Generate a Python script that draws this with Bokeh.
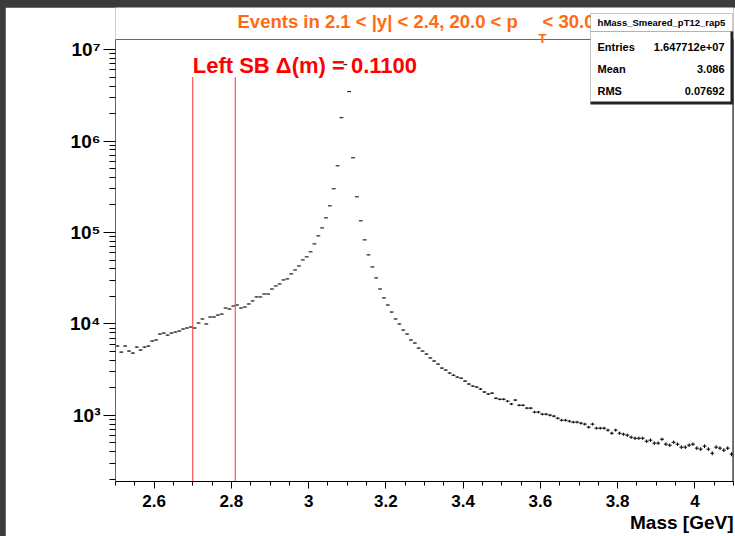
import numpy as np
from bokeh.plotting import figure
from bokeh.models import Range1d, FixedTicker, Label, BoxAnnotation, Title
from bokeh.layouts import column
from bokeh.embed import file_html
from bokeh.resources import INLINE

# ---------------- data ----------------
BIN_LOW = 2.5
BIN_WIDTH = 0.01
counts = [
    5730, 4920, 5730, 5050, 4800, 5580, 5180, 5580, 5730, 6500,
    6670, 7750, 7940, 7550, 7940, 8150, 8360, 8790, 9020, 9250,
    9020, 10230, 11320, 9980, 11900, 11900, 12500, 12820, 14930, 14560,
    15700, 16100, 14930, 15310, 16520, 17820, 19720, 19720, 21240, 21240,
    24100, 26000, 27350, 30270, 31050, 35240, 38900, 43050, 50100, 54100,
    61400, 75000, 91800, 112200, 144500, 195500, 300600, 536000, 1800000, 6850000,
    3470000, 656000, 245500, 134000, 83000, 56900, 42000, 31840, 24100, 19230,
    16100, 13490, 11320, 9980, 8570, 7750, 6670, 6180, 5440, 5050,
    4680, 4240, 3930, 3640, 3290, 3130, 2900, 2750, 2620, 2550,
    2370, 2200, 2090, 2040, 1940, 1800, 1710, 1750, 1540, 1500,
    1500, 1430, 1330, 1470, 1290, 1290, 1200, 1200, 1085, 1085,
    1030, 1030, 1005, 980, 930, 885, 885, 863, 843, 843,
    822, 802, 743, 802, 724, 724, 724, 689, 638, 689,
    638, 622, 607, 577, 562, 562, 562, 521, 535, 497,
    497, 548, 484, 472, 508, 484, 449, 449, 472, 484,
    438, 427, 460, 427, 385, 449, 438, 416, 438, 376,
]
x_ticks = [2.6, 2.8, 3.0, 3.2, 3.4, 3.6, 3.8, 4.0]
x_tick_labels = ["2.6", "2.8", "3", "3.2", "3.4", "3.6", "3.8", "4"]
y_ticks = [1e3, 1e4, 1e5, 1e6, 1e7]
y_tick_labels = ["10\u00b3", "10\u2074", "10\u2075", "10\u2076", "10\u2077"]
sb_lines = [2.70, 2.81]
sb_line_top = 5.0e6
title_main = "Events in 2.1 < |y| < 2.4, 20.0 < p"
title_sub = "T"
title_tail = "< 30.0"
sb_text = "Left SB \u0394(m) = 0.1100"
hist_name = "hMass_Smeared_pT12_rap5"
stat_names = ["Entries", "Mean", "RMS"]
stat_values = ["1.647712e+07", "3.086", "0.07692"]
x_title = "Mass [GeV]"

counts = np.array(counts, dtype=float)
centers = BIN_LOW + BIN_WIDTH * (np.arange(len(counts)) + 0.5)
errs = np.sqrt(counts)

FONT = "Liberation Sans"
ORANGE = "#ff6a13"
X0, X1 = 2.5, 4.1
Y0, Y1 = 189.0, 1.29e7          # axis (frame) range of the histogram
Y_TOP = 2.89e7                  # plotting area extended up to hold title / stats box

p = figure(width=730, height=529, y_axis_type="log",
           x_range=Range1d(X0, X1), y_range=Range1d(Y0, Y_TOP),
           output_backend="svg", toolbar_location=None,
           min_border_left=110, min_border_right=2,
           min_border_top=0, min_border_bottom=55)
p.margin = (7, 0, 0, 5)
p.background_fill_color = "white"
p.border_fill_color = "white"
p.outline_line_color = None
p.grid.visible = False

# x axis
p.xaxis.ticker = FixedTicker(ticks=x_ticks,
                             minor_ticks=list(np.round(np.arange(2.5, 4.1001, 0.05), 3)))
p.xaxis.major_label_overrides = dict(zip(x_ticks, x_tick_labels))
p.xaxis.major_label_text_font = FONT
p.xaxis.major_label_text_font_style = "bold"
p.xaxis.major_label_text_font_size = "17px"
p.xaxis.major_label_text_color = "black"
p.xaxis.major_tick_in = 0
p.xaxis.major_tick_out = 7
p.xaxis.minor_tick_in = 0
p.xaxis.minor_tick_out = 4
p.xaxis.major_label_standoff = 6
p.xaxis.axis_line_color = "black"

# right-aligned x-axis title below the axis
p.add_layout(Title(text=x_title, align="right", standoff=0, offset=0,
                   text_font=FONT, text_font_style="bold", text_font_size="19px",
                   text_color="black"), "below")

# y axis
p.yaxis.bounds = (Y0, Y1)
p.yaxis.ticker = FixedTicker(ticks=y_ticks,
                             minor_ticks=[m * 10 ** e for e in range(2, 7) for m in range(2, 10)])
p.yaxis.major_label_overrides = dict(zip(y_ticks, y_tick_labels))
p.yaxis.major_label_text_font = FONT
p.yaxis.major_label_text_font_style = "bold"
p.yaxis.major_label_text_font_size = "19px"
p.yaxis.major_label_text_color = "black"
p.yaxis.major_tick_in = 0
p.yaxis.major_tick_out = 12
p.yaxis.minor_tick_in = 0
p.yaxis.minor_tick_out = 6
p.yaxis.major_label_standoff = 3
p.yaxis.axis_line_color = "#666666"

# frame: top and right edges
p.segment(x0=[X0], x1=[X1], y0=[Y1], y1=[Y1], line_color="#666666", line_width=1)
p.segment(x0=[X1], x1=[X1], y0=[Y0], y1=[Y1], line_color="black", line_width=2)

# histogram: bin-width bars + poisson error bars
p.segment(x0=centers - BIN_WIDTH / 2, x1=centers + BIN_WIDTH / 2, y0=counts, y1=counts,
          line_color="black", line_width=1)
p.segment(x0=centers, x1=centers, y0=counts - errs, y1=counts + errs,
          line_color="black", line_width=1)

# sideband lines
p.segment(x0=sb_lines, x1=sb_lines, y0=[Y0] * len(sb_lines), y1=[sb_line_top] * len(sb_lines),
          line_color="#ff3030", line_width=1)

p.add_layout(Label(x=sb_lines[0], y=58, x_units="data", y_units="canvas", text=sb_text,
                   text_font=FONT, text_font_style="bold", text_font_size="22px",
                   text_color="#ff0000", text_baseline="alphabetic"))

# title (canvas units)
p.add_layout(Label(x=232, y=14, x_units="canvas", y_units="canvas", text=title_main,
                   text_font=FONT, text_font_style="bold", text_font_size="18.5px",
                   text_color=ORANGE, text_baseline="alphabetic"))
p.add_layout(Label(x=533, y=31, x_units="canvas", y_units="canvas", text=title_sub,
                   text_font=FONT, text_font_style="bold", text_font_size="13px",
                   text_color=ORANGE, text_baseline="alphabetic"))
p.add_layout(Label(x=537, y=14, x_units="canvas", y_units="canvas", text=title_tail,
                   text_font=FONT, text_font_style="bold", text_font_size="18.5px",
                   text_color=ORANGE, text_baseline="alphabetic"))

# stats box
for (t, b) in [(6, 24), (24, 96)]:
    p.add_layout(BoxAnnotation(left=585, right=727, top=t, bottom=b,
                               left_units="canvas", right_units="canvas",
                               top_units="canvas", bottom_units="canvas",
                               fill_color="white", fill_alpha=1.0,
                               line_color="#444444", line_width=1, level="overlay"))
p.add_layout(BoxAnnotation(left=725, right=728, top=24, bottom=96,
                           left_units="canvas", right_units="canvas",
                           top_units="canvas", bottom_units="canvas",
                           fill_color="#222222", fill_alpha=1.0, line_alpha=0, level="overlay"))
p.add_layout(BoxAnnotation(left=585, right=728, top=94, bottom=97,
                           left_units="canvas", right_units="canvas",
                           top_units="canvas", bottom_units="canvas",
                           fill_color="#222222", fill_alpha=1.0, line_alpha=0, level="overlay"))
p.add_layout(Label(x=656, y=15, x_units="canvas", y_units="canvas", text=hist_name,
                   text_font=FONT, text_font_style="bold", text_font_size="9.5px",
                   text_color="black", text_align="center", text_baseline="alphabetic",
                   level="overlay"))
for k, (nm, val) in enumerate(zip(stat_names, stat_values)):
    yb = 39 + 22 * k
    p.add_layout(Label(x=592, y=yb, x_units="canvas", y_units="canvas", text=nm,
                       text_font=FONT, text_font_style="bold", text_font_size="11px",
                       text_color="black", text_baseline="alphabetic", level="overlay"))
    p.add_layout(Label(x=719, y=yb, x_units="canvas", y_units="canvas", text=val,
                       text_font=FONT, text_font_style="bold", text_font_size="11px",
                       text_color="black", text_align="right", text_baseline="alphabetic",
                       level="overlay"))

layout = column(p, styles={"background-color": "#3b3b3b"})
open("out.html", "w").write(file_html(layout, INLINE))
